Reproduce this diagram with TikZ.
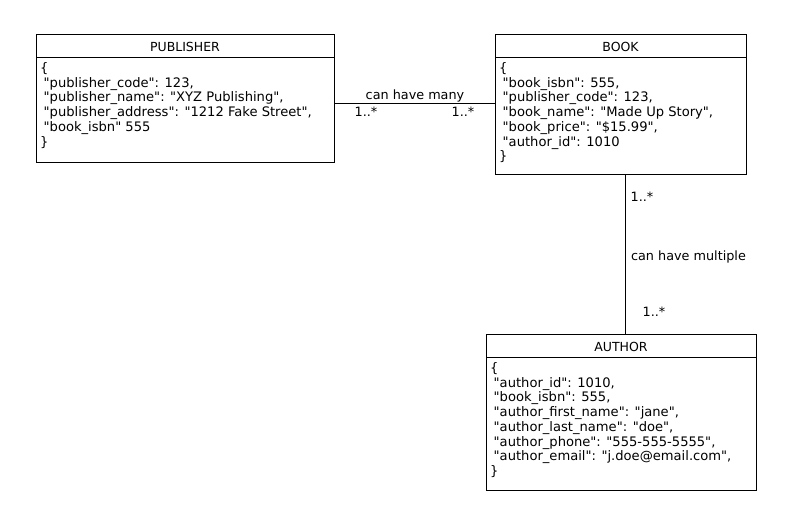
\documentclass[tikz,border=0pt]{standalone}
\usepackage{fontspec}
\setmainfont{DejaVu Sans}[Ligatures=TeXOff]
\newcommand{\ind}{\hspace*{3.5pt}}
\begin{document}
\begin{tikzpicture}[x=1pt,y=-1pt,
  box/.style={draw,line width=0.9pt,anchor=north west,inner sep=0pt},
  title/.style={font=\fontsize{12.5}{14}\selectfont,inner sep=0pt,anchor=base},
  body/.style={anchor=base west,align=left,inner sep=0pt,font=\fontsize{13.1}{14.7}\selectfont},
  lbl/.style={font=\fontsize{12.8}{14}\selectfont,inner sep=0pt,anchor=base},
  conn/.style={line width=0.9pt}]
\useasboundingbox (0,0) rectangle (787,530);
% PUBLISHER
\node[box,minimum width=298pt,minimum height=128pt] (pub) at (36,34) {};
\draw[line width=0.9pt] (36,57) -- (334,57);
\node[title] (pubt) at (185,51) {PUBLISHER};
\node[body] (pubb) at (40,146) {\{\\ \ind"publisher\_code": 123,\\ \ind"publisher\_name": "XYZ Publishing",\\ \ind"publisher\_address": "1212 Fake Street",\\ \ind"book\_isbn" 555\\\}};
% BOOK
\node[box,minimum width=251pt,minimum height=140pt] (book) at (495,34) {};
\draw[line width=0.9pt] (495,57) -- (746,57);
\node[title] (bookt) at (620.5,51) {BOOK};
\node[body] (bookb) at (499,160.7) {\{\\ \ind"book\_isbn": 555,\\ \ind"publisher\_code": 123,\\ \ind"book\_name": "Made Up Story",\\ \ind"book\_price": "\$15.99",\\ \ind"author\_id": 1010\\\}};
% AUTHOR
\node[box,minimum width=270pt,minimum height=156pt] (auth) at (486,334) {};
\draw[line width=0.9pt] (486,357) -- (756,357);
\node[title] (autht) at (621,351) {AUTHOR};
\node[body] (authb) at (490,475.4) {\{\\ \ind"author\_id": 1010,\\ \ind"book\_isbn": 555,\\ \ind"author\_first\_name": "jane",\\ \ind"author\_last\_name": "doe",\\ \ind"author\_phone": "555-555-5555",\\ \ind"author\_email": "j.doe@email.com",\\\}};
% connectors
\coordinate (h) at (415,103);
\draw[conn] (pub.east |- h) -- (book.west |- h);
\node[lbl] (l1) at (415,99) {can have many};
\node[lbl] (l2) at (366,116.5) {1..*};
\node[lbl] (l3) at (463,116.5) {1..*};
\coordinate (v) at (625,250);
\draw[conn] (book.south -| v) -- (auth.north -| v);
\node[lbl] (l4) at (642,201.5) {1..*};
\node[lbl] (l5) at (688.5,260.5) {can have multiple};
\node[lbl] (l6) at (654,316.5) {1..*};
\end{tikzpicture}
\end{document}
